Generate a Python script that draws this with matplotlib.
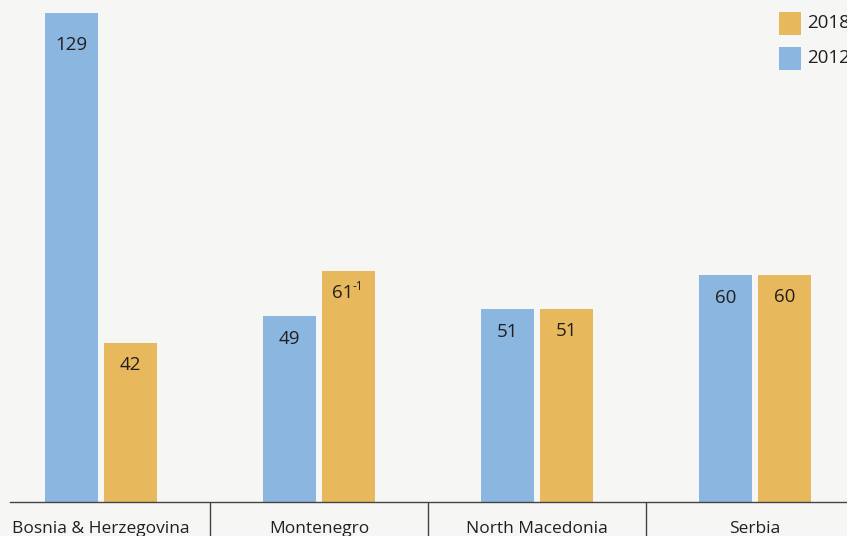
import numpy as np
import matplotlib.pyplot as plt
from matplotlib.patches import Rectangle

# values
countries = ['Bosnia & Herzegovina', 'Montenegro', 'North Macedonia', 'Serbia']
vals_2012 = [129, 49, 51, 60]
vals_2018 = [42, 61, 51, 60]
labels_2018 = ['42', '61', '51', '60']
sup_2018 = ['', '-1', '', '']
legend_years = ['2018', '2012']

blue = '#8ab6e0'
gold = '#e8b85c'
bg = '#f6f6f4'
txt = '#231f20'

plt.rcParams['font.family'] = ['Open Sans', 'DejaVu Sans']

W, H = 847, 536
fig = plt.figure(figsize=(W / 100, H / 100), dpi=100, facecolor=bg)
ax = fig.add_axes([10/W, 34/H, 837/W, 502/H])
ax.set_facecolor(bg)

x = np.arange(len(countries))
w = 0.243
off = 0.135
ax.bar(x - off, vals_2012, w, color=blue)
ax.bar(x + off, vals_2018, w, color=gold)

ax.set_xlim(-0.417, 3.422)
ax.set_ylim(0, 132.4)

fs = 13.5
for i, v in enumerate(vals_2012):
    dy = -32 if v > 100 else -23
    ax.annotate(str(v), (x[i] - off, v), xytext=(0, dy), textcoords='offset pixels',
                ha='center', va='center', fontsize=fs, color=txt)
for i, v in enumerate(vals_2018):
    dx = -6 if sup_2018[i] else 0
    ax.annotate(labels_2018[i], (x[i] + off, v), xytext=(dx, -22), textcoords='offset pixels',
                ha='center', va='center', fontsize=fs, color=txt)
    if sup_2018[i]:
        ax.annotate(sup_2018[i], (x[i] + off, v), xytext=(4, -16), textcoords='offset pixels',
                    ha='left', va='center', fontsize=8.5, color=txt)

for s in ['top', 'right', 'left']:
    ax.spines[s].set_visible(False)
ax.spines['bottom'].set_color('#444444')
ax.spines['bottom'].set_linewidth(1)
ax.set_yticks([])

ax.set_xticks(x)
ax.set_xticklabels(countries, fontsize=12.5, color=txt)
ax.tick_params(axis='x', which='major', length=0, pad=14)
ax.set_xticks([0.5, 1.5, 2.5], minor=True)
ax.tick_params(axis='x', which='minor', length=26, width=1, color='#444444', direction='out')

# legend drawn by hand, top right (runs off the edge like the original)
for k, (yr, col) in enumerate(zip(legend_years, [gold, blue])):
    top = 12 + 35 * k
    fig.add_artist(Rectangle((779 / W, 1 - (top + 23) / H), 22 / W, 23 / H,
                             transform=fig.transFigure, color=col, lw=0))
    fig.text(807 / W, 1 - (top + 11.5) / H, yr, ha='left', va='center',
             fontsize=fs, color=txt)

fig.savefig('out.png', dpi=100, facecolor=bg)
